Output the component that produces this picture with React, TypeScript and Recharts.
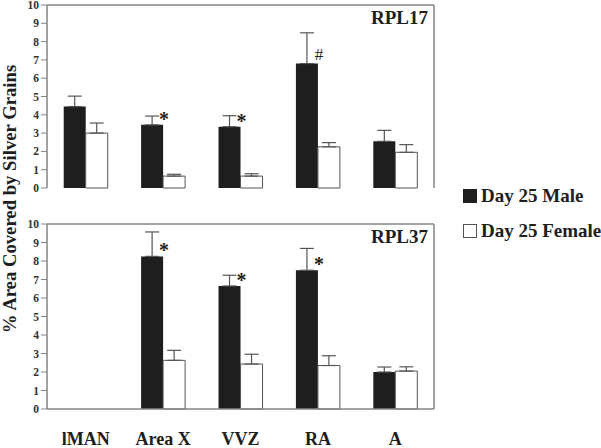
import React from 'react';
import { BarChart, Bar, XAxis, YAxis, ErrorBar, LabelList, Legend, CartesianGrid, ReferenceLine } from 'recharts';

const regions = ['lMAN', 'Area X', 'VVZ', 'RA', 'A'];

// RPL17
const rpl17Male = [4.45, 3.45, 3.35, 6.8, 2.55];
const rpl17MaleErr = [0.57, 0.48, 0.6, 1.68, 0.6];
const rpl17Female = [3.0, 0.65, 0.65, 2.25, 1.95];
const rpl17FemaleErr = [0.55, 0.1, 0.13, 0.23, 0.42];
const rpl17Marks = ['', '*', '*', '#', ''];

// RPL37 (no lMAN data)
const rpl37Male = [null, 8.25, 6.65, 7.5, 2.0];
const rpl37MaleErr = [null, 1.32, 0.58, 1.18, 0.27];
const rpl37Female = [null, 2.63, 2.43, 2.35, 2.05];
const rpl37FemaleErr = [null, 0.54, 0.53, 0.53, 0.23];
const rpl37Marks = ['', '*', '*', '*', ''];

const yTicks = [0, 1, 2, 3, 4, 5, 6, 7, 8, 9, 10];
const legendItems = [
  { label: 'Day 25 Male', fill: '#1e1e1e' },
  { label: 'Day 25 Female', fill: '#ffffff' },
];

const FONT = '"Liberation Serif", "Times New Roman", serif';
const AXIS = '#858585';
const DARK = '#1e1e1e';

const build = (male: any[], maleErr: any[], female: any[], femaleErr: any[], marks: string[]) =>
  regions.map((name, i) => ({
    name,
    male: male[i],
    maleErr: maleErr[i] == null ? null : [0, maleErr[i]],
    female: female[i],
    femaleErr: femaleErr[i] == null ? null : [0, femaleErr[i]],
    mark: marks[i],
  }));

const rpl17Data = build(rpl17Male, rpl17MaleErr, rpl17Female, rpl17FemaleErr, rpl17Marks);
const rpl37Data = build(rpl37Male, rpl37MaleErr, rpl37Female, rpl37FemaleErr, rpl37Marks);

const MarkLabel = (props: any) => {
  const { x, y, width, value } = props;
  if (!value) return null;
  const isHash = value === '#';
  return (
    <text
      x={x + width + 1}
      y={isHash ? y - 4 : y + 1}
      textAnchor="middle"
      fontFamily={FONT}
      fontWeight={isHash ? 'normal' : 'bold'}
      fontSize={isHash ? 17 : 20}
      fill={DARK}
    >
      {value}
    </text>
  );
};

const RegionTick = (props: any) => {
  const { x, y, payload } = props;
  return (
    <text x={x} y={y + 28} textAnchor="middle" fontFamily={FONT} fontWeight="bold" fontSize={18} fill={DARK}>
      {payload.value}
    </text>
  );
};

const LegendBox = () => (
  <div style={{ fontFamily: FONT, fontWeight: 'bold', fontSize: 19, color: DARK }}>
    {legendItems.map((item) => (
      <div key={item.label} style={{ display: 'flex', alignItems: 'center', height: 35 }}>
        <span
          style={{
            display: 'inline-block',
            width: 12,
            height: 12,
            background: item.fill,
            border: `1px solid ${item.fill === '#ffffff' ? '#555' : DARK}`,
            marginRight: 4,
          }}
        />
        {item.label}
      </div>
    ))}
  </div>
);

const Panel = ({ data, title, showX, height, top }: any) => (
  <BarChart
    width={601}
    height={height}
    data={data}
    margin={{ top, right: 167, bottom: showX ? 0 : 12, left: 7 }}
    barGap={0}
    barCategoryGap="21.6%"
  >
    <CartesianGrid
      horizontal={false}
      stroke={AXIS}
      strokeWidth={1.5}
      verticalCoordinatesGenerator={({ offset }: any) => [offset.left + offset.width]}
    />
    <XAxis
      dataKey="name"
      height={showX ? 39 : 0}
      tick={showX ? <RegionTick /> : false}
      tickLine={false}
      axisLine={{ stroke: AXIS, strokeWidth: 1.5 }}
      interval={0}
    />
    <YAxis
      domain={[0, 10]}
      ticks={yTicks}
      interval={0}
      width={40}
      tickSize={6}
      tickMargin={2}
      axisLine={{ stroke: AXIS, strokeWidth: 1.5 }}
      tickLine={{ stroke: AXIS }}
      tick={{ fontFamily: FONT, fontWeight: 'bold', fontSize: 11.5, fill: '#333' }}
    />
    <ReferenceLine
      y={10}
      stroke={AXIS}
      strokeWidth={1.5}
      label={{
        value: title,
        position: 'insideTopRight',
        offset: 6,
        fontFamily: FONT,
        fontWeight: 'bold',
        fontSize: 19,
        fill: DARK,
      }}
    />
    <Bar dataKey="male" fill={DARK} isAnimationActive={false}>
      <ErrorBar dataKey="maleErr" width={7} stroke="#555" strokeWidth={1.2} direction="y" />
      <LabelList dataKey="mark" content={<MarkLabel />} />
    </Bar>
    <Bar dataKey="female" fill="#ffffff" stroke="#555" strokeWidth={1} isAnimationActive={false}>
      <ErrorBar dataKey="femaleErr" width={7} stroke="#555" strokeWidth={1.2} direction="y" />
    </Bar>
    {!showX && (
      <Legend
        layout="vertical"
        align="center"
        verticalAlign="middle"
        content={<LegendBox />}
        wrapperStyle={{ left: 463, top: 178, width: 140 }}
      />
    )}
  </BarChart>
);

export default function App() {
  return (
    <div style={{ position: 'absolute', left: 0, top: 0, width: 601, height: 448, background: '#fff' }}>
      <div style={{ position: 'absolute', left: 0, top: 212 }}>
        <Panel data={rpl37Data} title="RPL37" showX={true} height={236} top={12} />
      </div>
      <div style={{ position: 'absolute', left: 0, top: 0 }}>
        <Panel data={rpl17Data} title="RPL17" showX={false} height={200} top={5} />
      </div>
      <svg style={{ position: 'absolute', left: 0, top: 0 }} width={30} height={448}>
        <text
          x={16}
          y={199}
          transform="rotate(-90, 16, 199)"
          textAnchor="middle"
          fontFamily={FONT}
          fontWeight="bold"
          fontSize={18.7}
          fill={DARK}
        >
          % Area Covered by Silver Grains
        </text>
      </svg>
    </div>
  );
}
